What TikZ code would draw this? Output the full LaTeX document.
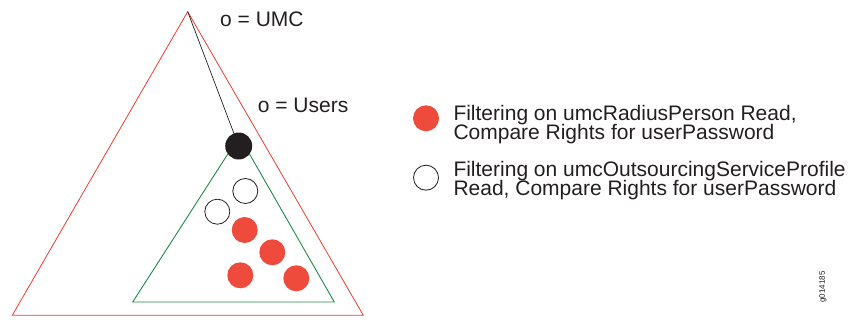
\documentclass[tikz,border=0pt]{standalone}
\usepackage{fontspec}
\setmainfont{Liberation Sans}
\definecolor{ink}{HTML}{231F20}
\definecolor{redfill}{HTML}{EF4B3C}
\definecolor{redline}{HTML}{EE3B34}
\definecolor{greenline}{HTML}{1E8A4C}
\tikzset{
  label/.style={inner sep=0pt, anchor=base west, text=ink, font=\fontsize{21}{19.4}\selectfont},
  legend/.style={inner sep=0pt, anchor=base west, text=ink, font=\fontsize{21}{19.4}\selectfont},
  redobj/.style={circle, fill=redfill, draw=none, minimum size=26pt, inner sep=0pt},
  openobj/.style={circle, fill=white, draw=ink, line width=0.8pt, minimum size=25pt, inner sep=0pt},
  rootobj/.style={circle, fill=ink, draw=none, minimum size=27pt, inner sep=0pt},
}
\begin{document}
\begin{tikzpicture}[x=1pt, y=-1pt]
\useasboundingbox (0,0) rectangle (854,324);
% outer tree: UMC
\coordinate (top) at (187.7,11.7);
\draw[redline, line width=0.8pt] (top) -- (363.3,315.3) -- (12.3,315.3) -- cycle;
% inner tree: Users
\draw[greenline, line width=0.9pt] (239.3,136.2) -- (334.3,302) -- (132.7,302) -- cycle;
\node[rootobj] (users) at (238.7,146) {};
\draw[ink, line width=0.7pt] (top) -- (users);
% entries
\node[openobj] (o1) at (245.3,191) {};
\node[openobj] (o2) at (217.3,211.7) {};
\node[redobj] (r1) at (244.7,230) {};
\node[redobj] (r2) at (272.3,252.3) {};
\node[redobj] (r3) at (240.3,275.3) {};
\node[redobj] (r4) at (296.3,278.3) {};
% labels
\node[label] (umc) at (220,27) {o = UMC};
\node[label] (usr) at (257.7,112.7) {o = Users};
% legend
\node[redobj] (lr) at (426,118.3) {};
\node[openobj] (lo) at (426,177.7) {};
\node[legend] (tr1) at (453.3,120) {Filtering on umcRadiusPerson Read,};
\node[legend] (tr2) at (453.3,139.3) {Compare Rights for userPassword};
\node[legend] (to1) at (453.3,176.7) {Filtering on umcOutsourcingServiceProfile};
\node[legend] (to2) at (453.3,195.9) {Read, Compare Rights for userPassword};
\node[inner sep=0pt, rotate=90, text=ink, font=\fontsize{8}{10}\selectfont] (fig) at (823,287) {g014185};
\end{tikzpicture}
\end{document}
